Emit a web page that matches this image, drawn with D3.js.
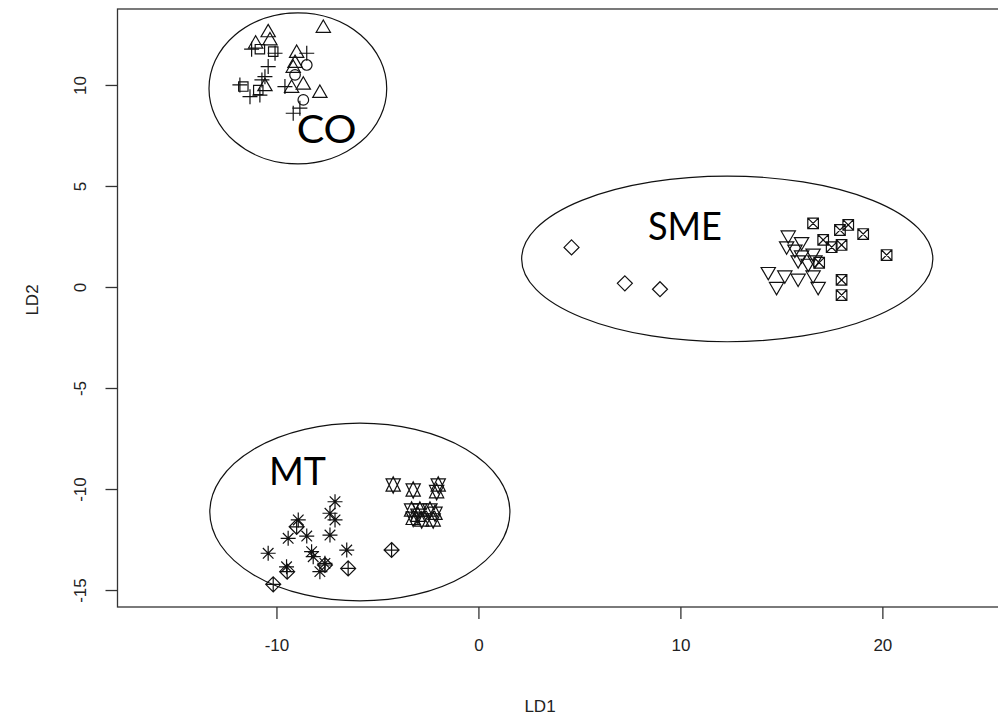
<!DOCTYPE html>
<html>
<head>
<meta charset="utf-8">
<title>LDA</title>
<script src="https://d3js.org/d3.v7.min.js"></script>
<style>
  body { margin: 0; background: #fff; }
</style>
</head>
<body>
<script>
// data (LD1, LD2), one array per symbol group
const coTriangles = [[-7.68, 12.81], [-10.41, 12.59], [-10.32, 12.19], [-11.03, 12.03], [-9.0, 11.57],
  [-9.08, 11.07], [-9.17, 10.83], [-8.67, 10.0], [-9.25, 9.84], [-7.85, 9.59], [-10.57, 9.92]];
const coSquares = [[-10.82, 11.77], [-10.16, 11.65], [-11.64, 9.92], [-10.9, 9.75]];
const coCircles = [[-8.5, 10.99], [-9.08, 10.5], [-8.67, 9.26]];
const coPlus = [[-8.5, 11.57], [-10.07, 11.57], [-11.23, 11.77], [-10.41, 10.91], [-10.57, 10.41],
  [-11.81, 10.0], [-11.31, 9.42], [-10.82, 9.5], [-9.58, 9.92], [-9.17, 8.6], [-8.84, 8.85], [-10.72, 10.25]];

const smeDiamonds = [[4.61, 1.96], [7.25, 0.18], [8.99, -0.11]];
const smeTriDown = [[15.34, 2.57], [16.0, 2.24], [15.26, 2.03], [15.67, 1.87], [16.57, 1.67], [16.0, 1.58],
  [15.83, 1.34], [16.33, 1.17], [16.66, 1.34], [14.35, 0.76], [15.17, 0.59], [15.83, 0.43], [16.57, 0.59],
  [14.76, 0.02], [16.82, 0.02]];
const smeBoxX = [[16.57, 3.15], [18.31, 3.07], [17.9, 2.82], [19.05, 2.62], [17.07, 2.33], [17.49, 1.97],
  [17.98, 2.08], [20.21, 1.58], [16.87, 1.2], [17.98, 0.35], [17.98, -0.4]];

const mtAsterisk = [[-7.1, -10.63], [-7.35, -11.2], [-7.1, -11.53], [-8.92, -11.53], [-7.35, -12.28],
  [-8.5, -12.33], [-9.42, -12.44], [-10.41, -13.18], [-8.26, -13.1], [-8.18, -13.35], [-6.52, -13.02],
  [-9.5, -13.85], [-7.85, -14.09], [-7.6, -13.68]];
const mtDiamondPlus = [[-4.3, -13.02], [-6.45, -13.93], [-7.6, -13.76], [-9.0, -11.87], [-9.47, -14.09], [-10.16, -14.72]];
const mtStars = [[-4.22, -9.8], [-3.23, -10.05], [-1.99, -9.8], [-2.07, -10.13], [-3.31, -11.04], [-2.9, -11.04],
  [-2.4, -11.04], [-2.15, -11.2], [-3.23, -11.45], [-2.81, -11.53], [-2.24, -11.53], [-3.0, -11.3]];

// ellipses: centre x, centre y, radius x, radius y (data units)
const ellipses = [[-8.94, 9.83, 4.4, 3.74], [12.32, 1.39, 10.18, 4.1], [-5.87, -11.14, 7.43, 4.4]];
const clusterNames = ["CO", "SME", "MT"];
const clusterAt = [[-9.0, 7.13], [8.39, 2.33], [-10.37, -9.8]];
const clusterWidth = [60, 74, 57];

const xTicks = [-10, 0, 10, 20];
const yTicks = [-15, -10, -5, 0, 5, 10];

const groups = [
  [2, coTriangles], [0, coSquares], [1, coCircles], [3, coPlus],
  [5, smeDiamonds], [6, smeTriDown], [7, smeBoxX],
  [8, mtAsterisk], [9, mtDiamondPlus], [11, mtStars]
];

const width = 998, height = 719;
const box = {left: 117.5, right: 1003, top: 9, bottom: 607};

const x = d3.scaleLinear().domain([-17.87, 25.75]).range([117.5, 998.5]);
const y = d3.scaleLinear().domain([-15.84, 13.76]).range([607, 9]);

const svg = d3.select("body").append("svg")
  .attr("width", width).attr("height", height)
  .style("font-family", "'Liberation Sans', Arial, sans-serif");

// R style point symbols
const R = 5.3;
function pchPath(p) {
  const path = d3.path();
  const poly = pts => { path.moveTo(pts[0][0], pts[0][1]); pts.slice(1).forEach(q => path.lineTo(q[0], q[1])); path.closePath(); };
  const line = (a, b, c, d) => { path.moveTo(a, b); path.lineTo(c, d); };
  const s2 = Math.SQRT2 * R;
  if (p == 0) { const h = 0.886 * R; poly([[-h, -h], [h, -h], [h, h], [-h, h]]); }
  else if (p == 1) { path.moveTo(R, 0); path.arc(0, 0, R, 0, 2 * Math.PI); }
  else if (p == 2) { poly([[0, -1.555 * R], [1.347 * R, 0.778 * R], [-1.347 * R, 0.778 * R]]); }
  else if (p == 6) { poly([[0, 1.555 * R], [1.347 * R, -0.778 * R], [-1.347 * R, -0.778 * R]]); }
  else if (p == 3) { line(-s2, 0, s2, 0); line(0, -s2, 0, s2); }
  else if (p == 5) { poly([[0, -s2], [s2, 0], [0, s2], [-s2, 0]]); }
  else if (p == 7) { poly([[-R, -R], [R, -R], [R, R], [-R, R]]); line(-R, -R, R, R); line(-R, R, R, -R); }
  else if (p == 8) { line(-R, -R, R, R); line(-R, R, R, -R); line(-s2, 0, s2, 0); line(0, -s2, 0, s2); }
  else if (p == 9) { poly([[0, -s2], [s2, 0], [0, s2], [-s2, 0]]); line(-s2, 0, s2, 0); line(0, -s2, 0, s2); }
  else if (p == 11) {
    const r = 1.555 * R, yc = 0.5 * (0.778 * R + r), xc = 1.347 * R;
    poly([[0, -r], [xc, yc], [-xc, yc]]);
    poly([[0, r], [xc, -yc], [-xc, -yc]]);
  }
  return path.toString();
}

// ellipses
svg.append("g").selectAll("ellipse")
  .data(ellipses)
  .join("ellipse")
    .attr("cx", d => x(d[0]))
    .attr("cy", d => y(d[1]))
    .attr("rx", d => x(d[2]) - x(0))
    .attr("ry", d => y(0) - y(d[3]))
    .attr("fill", "none")
    .attr("stroke", "#111")
    .attr("stroke-width", 1.2);

// points
const pts = svg.append("g")
  .attr("fill", "none")
  .attr("stroke", "#111")
  .attr("stroke-width", 1.2);

groups.forEach(function(g) {
  pts.selectAll(null)
    .data(g[1])
    .join("path")
      .attr("transform", d => "translate(" + x(d[0]) + "," + y(d[1]) + ")")
      .attr("d", pchPath(g[0]));
});

// cluster names
svg.append("g").selectAll("text")
  .data(clusterNames)
  .join("text")
    .attr("x", (d, i) => x(clusterAt[i][0]))
    .attr("y", (d, i) => y(clusterAt[i][1]))
    .attr("font-family", "'Gill Sans', Lato, 'Open Sans', sans-serif")
    .attr("font-size", 39)
    .attr("textLength", (d, i) => clusterWidth[i])
    .attr("lengthAdjust", "spacingAndGlyphs")
    .attr("fill", "#000")
    .text(d => d);

// plot box
svg.append("rect")
  .attr("x", box.left).attr("y", box.top)
  .attr("width", box.right - box.left).attr("height", box.bottom - box.top)
  .attr("fill", "none")
  .attr("stroke", "#333")
  .attr("stroke-width", 1.3);

// axes
const xAxis = svg.append("g")
  .attr("transform", "translate(0," + box.bottom + ")")
  .call(d3.axisBottom(x).tickValues(xTicks).tickSize(12).tickPadding(20).tickFormat(d => String(d)));
xAxis.select(".domain").remove();

const yAxis = svg.append("g")
  .attr("transform", "translate(" + box.left + ",0)")
  .call(d3.axisLeft(y).tickValues(yTicks).tickSize(12).tickFormat(d => String(d)));
yAxis.select(".domain").remove();
yAxis.selectAll("text")
  .attr("x", null).attr("dy", null)
  .attr("text-anchor", "middle")
  .attr("transform", "translate(-37,0) rotate(-90)")
  .attr("dy", "0.35em");

svg.selectAll(".tick line").attr("stroke", "#333").attr("stroke-width", 1.3);
svg.selectAll(".tick text")
  .attr("font-size", 17)
  .attr("font-family", "'Liberation Sans', Arial, sans-serif")
  .attr("fill", "#222");

// axis titles
svg.append("text")
  .attr("x", 540).attr("y", 712)
  .attr("text-anchor", "middle")
  .attr("font-size", 17)
  .attr("fill", "#222")
  .text("LD1");

svg.append("text")
  .attr("transform", "translate(38,300) rotate(-90)")
  .attr("text-anchor", "middle")
  .attr("font-size", 17)
  .attr("fill", "#222")
  .text("LD2");
</script>
</body>
</html>
